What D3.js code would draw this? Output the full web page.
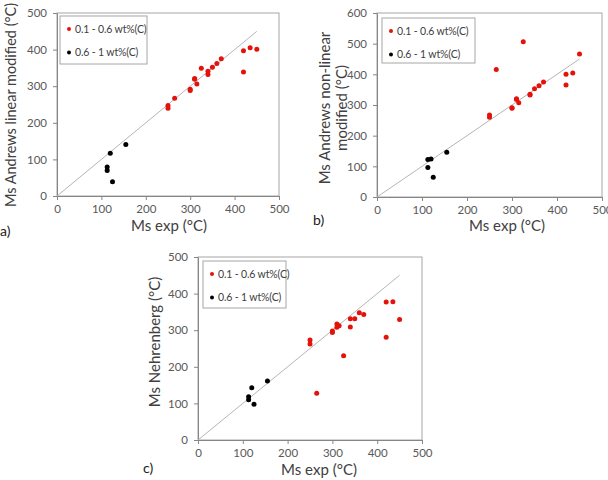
<!DOCTYPE html>
<html><head><meta charset="utf-8">
<script src="https://cdn.jsdelivr.net/npm/d3@7"></script>
<style>
html,body{margin:0;padding:0;background:#fff;}
svg{display:block;font-family:Lato, "Liberation Sans", sans-serif;}
</style></head>
<body>
<svg id="chart" width="608" height="480"></svg>
<script>
// ---- data ----
const seriesNames = ["0.1 - 0.6 wt%(C)", "0.6 - 1 wt%(C)"];
const redExp   = [250, 250, 265, 300, 300, 310, 310, 315, 325, 340, 340, 350, 360, 370, 420, 420, 435, 450];
const blackExp = [113, 113, 120, 125, 155];

const redAndrewsLinear    = [247, 240, 267, 292, 288, 321, 319, 306, 349, 341, 332, 352, 362, 375, 397, 339, 405, 401];
const blackAndrewsLinear  = [79, 70, 117, 39, 141];

const redAndrewsNonLinear   = [267, 260, 416, 291, 289, 320, 318, 307, 506, 335, 333, 353, 363, 375, 400, 365, 404, 466];
const blackAndrewsNonLinear = [122, 96, 124, 64, 146];

const redNehrenberg   = [273, 262, 128, 298, 294, 317, 308, 312, 230, 331, 309, 331, 348, 343, 377, 281, 378, 329];
const blackNehrenberg = [118, 110, 143, 98, 161];

const xTicks = [0, 100, 200, 300, 400, 500];
const yTicks500 = [0, 100, 200, 300, 400, 500];
const yTicks600 = [0, 100, 200, 300, 400, 500, 600];
const diagonal = [0, 450];

const RED = "#e3120b", BLACK = "#000000";
const svg = d3.select("#chart");

const panels = [
  {label:"a)", lx:0, ly:236, x0:57, x1:279, y0:196, y1:13, ymax:500, yTicks:yTicks500,
   red:redAndrewsLinear, black:blackAndrewsLinear,
   ytitle:["Ms Andrews linear modified (°C)"], ytx:[11], yty:105,
   xtx:169, xty:231, leg:{x:60, y:16, w:87, h:48}},
  {label:"b)", lx:313, ly:225, x0:377, x1:602, y0:197, y1:13, ymax:600, yTicks:yTicks600,
   red:redAndrewsNonLinear, black:blackAndrewsNonLinear,
   ytitle:["Ms Andrews non-linear","modified (°C)"], ytx:[325, 342], yty:108,
   xtx:507, xty:231, leg:{x:382, y:18, w:93, h:45}},
  {label:"c)", lx:143, ly:473, x0:198, x1:422, y0:440, y1:257, ymax:500, yTicks:yTicks500,
   red:redNehrenberg, black:blackNehrenberg,
   ytitle:["Ms Nehrenberg (°C)"], ytx:[155], yty:342,
   xtx:319, xty:475, leg:{x:203, y:261, w:83, h:47}}
];

panels.forEach(p => {
  const x = d3.scaleLinear().domain([0, 500]).range([p.x0, p.x1]);
  const y = d3.scaleLinear().domain([0, p.ymax]).range([p.y0, p.y1]);
  const g = svg.append("g");

  // plot border (top/right)
  g.append("rect").attr("x", p.x0).attr("y", p.y1).attr("width", p.x1 - p.x0).attr("height", p.y0 - p.y1)
    .attr("fill", "none").attr("stroke", "#a6a6a6").attr("stroke-width", 1);

  // axes
  const xa = g.append("g").attr("transform", `translate(0,${p.y0})`)
    .call(d3.axisBottom(x).tickValues(xTicks).tickSize(4).tickSizeOuter(0).tickPadding(5));
  const ya = g.append("g").attr("transform", `translate(${p.x0},0)`)
    .call(d3.axisLeft(y).tickValues(p.yTicks).tickSize(4).tickSizeOuter(0).tickPadding(6));
  [xa, ya].forEach(a => {
    a.select(".domain").attr("stroke", "#868686");
    a.selectAll(".tick line").attr("stroke", "#868686");
    a.selectAll(".tick text").attr("fill", "#595959").style("font-size", "11.5px")
      .style("font-family", "Lato, sans-serif");
  });

  // diagonal
  g.append("line").attr("x1", x(diagonal[0])).attr("y1", y(diagonal[0]))
    .attr("x2", x(diagonal[1])).attr("y2", y(diagonal[1]))
    .attr("stroke", "#b5b5b5").attr("stroke-width", 1);

  // points
  g.selectAll(".r").data(redExp.map((v, i) => [v, p.red[i]])).join("circle")
    .attr("cx", d => x(d[0])).attr("cy", d => y(d[1])).attr("r", 2.5).attr("fill", RED);
  g.selectAll(".k").data(blackExp.map((v, i) => [v, p.black[i]])).join("circle")
    .attr("cx", d => x(d[0])).attr("cy", d => y(d[1])).attr("r", 2.5).attr("fill", BLACK);

  // legend
  const L = p.leg;
  g.append("rect").attr("x", L.x).attr("y", L.y).attr("width", L.w).attr("height", L.h)
    .attr("fill", "#fff").attr("stroke", "#a6a6a6");
  [RED, BLACK].forEach((c, i) => {
    const cy = L.y + 13 + i * 23.5;
    g.append("circle").attr("cx", L.x + 9).attr("cy", cy).attr("r", 2).attr("fill", c);
    g.append("text").attr("x", L.x + 15).attr("y", cy).attr("dy", "0.35em")
      .attr("fill", "#404040").style("font-size", "10.5px").style("letter-spacing", "-0.15px")
      .text(seriesNames[i]);
  });

  // x title
  g.append("text").attr("x", p.xtx).attr("y", p.xty).attr("text-anchor", "middle")
    .attr("fill", "#404040").style("font-size", "15px").text("Ms exp (°C)");
  // y title
  p.ytitle.forEach((t, i) => {
    g.append("text").attr("transform", `translate(${p.ytx[i]},${p.yty}) rotate(-90)`)
      .attr("text-anchor", "middle").attr("dy", "0.35em")
      .attr("fill", "#404040").style("font-size", i === 0 && p.label === "a)" ? "14.5px" : "15px").text(t);
  });
  // panel label
  g.append("text").attr("x", p.lx).attr("y", p.ly).attr("fill", "#202020")
    .style("font-size", "14px").text(p.label);
});
</script>
</body></html>
